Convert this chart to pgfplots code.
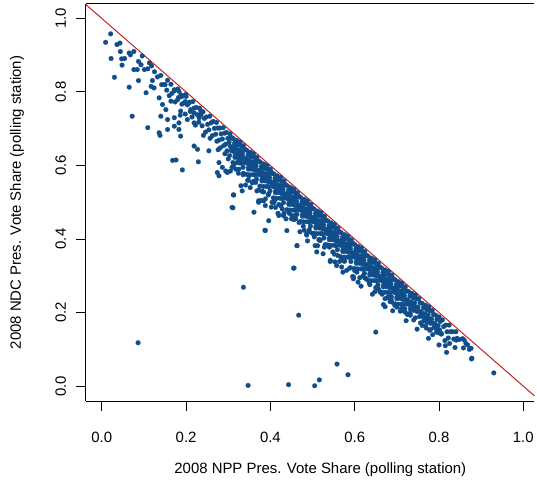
\documentclass[border=0pt]{standalone}
\usepackage{fontspec}
\setmainfont{Liberation Sans}
\usepackage{pgfplots}
\pgfplotsset{compat=1.18}
\definecolor{ptblue}{RGB}{16,78,139}
\definecolor{abline}{RGB}{195,35,35}
\begin{document}
\begin{tikzpicture}
\path (0,0) rectangle (537bp,485bp);
\begin{axis}[
  at={(86bp,82bp)}, anchor=south west,
  scale only axis, width=451bp, height=399bp,
  xmin=-0.0385, xmax=1.0264, ymin=-0.0406, ymax=1.0393,
  clip=false,
  axis lines*=left,
  axis line style={line width=1bp},
  xtick={0,0.2,0.4,0.6,0.8,1.0}, ytick={0,0.2,0.4,0.6,0.8,1.0},
  xticklabels={0.0,0.2,0.4,0.6,0.8,1.0},
  yticklabels={0.0,0.2,0.4,0.6,0.8,1.0},
  tick align=outside, major tick length=10bp,
  tick style={line width=1bp, black},
  ticklabel style={font=\fontsize{15bp}{18bp}\selectfont},
  xticklabel style={anchor=center, yshift=-26bp},
  yticklabel style={rotate=90, anchor=center, yshift=15bp},
  label style={font=\fontsize{15bp}{18bp}\selectfont},
  xlabel={2008 NPP Pres. Vote Share (polling station)},
  ylabel={2008 NDC Pres. Vote Share (polling station)},
  xlabel style={at={(axis description cs:0.523,-0.172)}, anchor=center},
  ylabel style={at={(axis description cs:-0.153,0.5)}, anchor=center},
]
\addplot[only marks, color=ptblue, mark=*, mark size=2.4bp, mark options={draw=ptblue, fill=ptblue, line width=0.2bp}] coordinates {
(0.021,0.958)(0.009,0.935)(0.036,0.929)(0.043,0.933)(0.044,0.910)(0.022,0.891)(0.047,0.890)(0.048,0.873)(0.054,0.891)(0.065,0.906)(0.076,0.910)(0.068,0.901)(0.096,0.898)(0.030,0.840)(0.065,0.813)(0.072,0.734)(0.087,0.883)(0.093,0.874)(0.084,0.861)(0.109,0.863)(0.101,0.861)(0.076,0.861)(0.113,0.879)(0.118,0.871)(0.087,0.831)(0.105,0.798)(0.120,0.831)(0.132,0.841)(0.117,0.815)(0.124,0.811)(0.136,0.784)(0.148,0.820)(0.154,0.805)(0.160,0.790)(0.172,0.806)(0.164,0.775)(0.183,0.802)(0.180,0.779)(0.189,0.787)(0.199,0.793)(0.195,0.770)(0.144,0.766)(0.152,0.752)(0.140,0.734)(0.156,0.725)(0.172,0.730)(0.187,0.748)(0.207,0.770)(0.211,0.752)(0.219,0.743)(0.109,0.703)(0.172,0.707)(0.183,0.716)(0.203,0.725)(0.219,0.716)(0.235,0.748)(0.231,0.730)
(0.136,0.689)(0.138,0.682)(0.156,0.698)(0.168,0.614)(0.176,0.615)(0.191,0.588)(0.229,0.610)(0.219,0.653)(0.227,0.644)(0.187,0.680)(0.183,0.698)(0.278,0.572)(0.286,0.595)(0.325,0.590)(0.298,0.581)(0.341,0.547)
(0.200,0.788)(0.203,0.765)(0.198,0.740)(0.208,0.772)(0.210,0.747)(0.216,0.774)(0.219,0.756)(0.214,0.732)(0.224,0.758)(0.227,0.738)(0.222,0.710)(0.232,0.756)(0.235,0.738)(0.230,0.718)
(0.164,0.821)(0.166,0.796)(0.172,0.803)(0.174,0.773)(0.180,0.808)(0.182,0.785)(0.188,0.792)(0.190,0.767)(0.186,0.737)(0.196,0.790)(0.198,0.774)
(0.125,0.855)(0.140,0.845)(0.142,0.820)(0.150,0.820)(0.156,0.832)
(0.240,0.746)(0.243,0.728)(0.238,0.708)(0.241,0.682)(0.248,0.732)(0.251,0.712)(0.246,0.691)
(0.256,0.734)(0.259,0.716)(0.254,0.697)(0.257,0.674)(0.264,0.720)(0.267,0.701)(0.262,0.681)
(0.272,0.717)(0.275,0.702)(0.270,0.685)(0.273,0.666)(0.276,0.643)(0.280,0.702)(0.283,0.686)(0.278,0.669)(0.281,0.648)
(0.288,0.703)(0.291,0.688)(0.286,0.672)(0.289,0.654)(0.292,0.632)(0.296,0.690)(0.299,0.674)(0.294,0.658)(0.297,0.640)
(0.304,0.686)(0.307,0.675)(0.302,0.663)(0.305,0.652)(0.308,0.640)(0.303,0.627)
(0.312,0.673)(0.315,0.661)(0.310,0.650)(0.313,0.638)(0.316,0.626)(0.311,0.608)
(0.320,0.668)(0.323,0.656)(0.318,0.645)(0.321,0.633)(0.324,0.622)(0.319,0.607)
(0.328,0.664)(0.331,0.653)(0.326,0.642)(0.329,0.631)(0.332,0.619)(0.327,0.607)
(0.336,0.654)(0.339,0.643)(0.334,0.631)(0.337,0.620)(0.340,0.608)(0.335,0.595)
(0.344,0.641)(0.347,0.629)(0.342,0.618)(0.345,0.606)(0.348,0.594)(0.343,0.576)
(0.352,0.636)(0.355,0.624)(0.350,0.613)(0.353,0.601)(0.356,0.590)(0.351,0.575)
(0.360,0.632)(0.363,0.621)(0.358,0.610)(0.361,0.599)(0.364,0.587)(0.359,0.575)
(0.368,0.622)(0.371,0.611)(0.366,0.599)(0.369,0.588)(0.372,0.576)(0.367,0.563)
(0.376,0.609)(0.379,0.597)(0.374,0.586)(0.377,0.574)(0.380,0.562)(0.375,0.544)
(0.384,0.604)(0.387,0.592)(0.382,0.581)(0.385,0.569)(0.388,0.558)(0.383,0.543)
(0.392,0.600)(0.395,0.589)(0.390,0.578)(0.393,0.567)(0.396,0.555)(0.391,0.543)
(0.400,0.590)(0.403,0.579)(0.398,0.567)(0.401,0.556)(0.404,0.544)(0.399,0.531)
(0.408,0.577)(0.411,0.565)(0.406,0.554)(0.409,0.542)(0.412,0.530)(0.407,0.512)
(0.416,0.572)(0.419,0.560)(0.414,0.549)(0.417,0.537)(0.420,0.526)(0.415,0.511)
(0.424,0.568)(0.427,0.557)(0.422,0.546)(0.425,0.535)(0.428,0.523)(0.423,0.511)
(0.432,0.558)(0.435,0.547)(0.430,0.535)(0.433,0.524)(0.436,0.512)(0.431,0.499)
(0.440,0.545)(0.443,0.533)(0.438,0.522)(0.441,0.510)(0.444,0.498)(0.439,0.480)
(0.448,0.540)(0.451,0.528)(0.446,0.517)(0.449,0.505)(0.452,0.494)(0.447,0.479)
(0.456,0.536)(0.459,0.525)(0.454,0.514)(0.457,0.503)(0.460,0.491)(0.455,0.479)
(0.464,0.526)(0.467,0.515)(0.462,0.503)(0.465,0.492)(0.468,0.480)(0.463,0.467)
(0.472,0.513)(0.475,0.501)(0.470,0.490)(0.473,0.478)(0.476,0.466)(0.471,0.448)
(0.480,0.508)(0.483,0.496)(0.478,0.485)(0.481,0.473)(0.484,0.462)(0.479,0.447)
(0.488,0.504)(0.491,0.493)(0.486,0.482)(0.489,0.471)(0.492,0.459)(0.487,0.447)
(0.496,0.494)(0.499,0.483)(0.494,0.471)(0.497,0.460)(0.500,0.448)(0.495,0.435)
(0.504,0.481)(0.507,0.469)(0.502,0.458)(0.505,0.446)(0.508,0.434)(0.503,0.416)
(0.512,0.476)(0.515,0.464)(0.510,0.453)(0.513,0.441)(0.516,0.430)(0.511,0.415)
(0.520,0.472)(0.523,0.461)(0.518,0.450)(0.521,0.439)(0.524,0.427)(0.519,0.415)
(0.528,0.462)(0.531,0.451)(0.526,0.439)(0.529,0.428)(0.532,0.416)(0.527,0.403)
(0.536,0.449)(0.539,0.437)(0.534,0.426)(0.537,0.414)(0.540,0.402)(0.535,0.384)
(0.544,0.444)(0.547,0.432)(0.542,0.421)(0.545,0.409)(0.548,0.398)(0.543,0.383)
(0.552,0.440)(0.555,0.429)(0.550,0.418)(0.553,0.407)(0.556,0.395)(0.551,0.383)
(0.560,0.430)(0.563,0.419)(0.558,0.407)(0.561,0.396)(0.564,0.384)(0.559,0.371)
(0.568,0.417)(0.571,0.405)(0.566,0.394)(0.569,0.382)(0.572,0.370)(0.567,0.352)
(0.576,0.412)(0.579,0.400)(0.574,0.389)(0.577,0.377)(0.580,0.366)(0.575,0.351)
(0.584,0.408)(0.587,0.397)(0.582,0.386)(0.585,0.375)(0.588,0.363)(0.583,0.351)
(0.592,0.398)(0.595,0.387)(0.590,0.375)(0.593,0.364)(0.596,0.352)(0.591,0.339)
(0.600,0.385)(0.603,0.373)(0.598,0.362)(0.601,0.350)(0.604,0.338)(0.599,0.320)
(0.608,0.380)(0.611,0.368)(0.606,0.357)(0.609,0.345)(0.612,0.334)(0.607,0.319)
(0.616,0.376)(0.619,0.365)(0.614,0.354)(0.617,0.343)(0.620,0.331)(0.615,0.319)
(0.624,0.366)(0.627,0.355)(0.622,0.343)(0.625,0.332)(0.628,0.320)(0.623,0.307)
(0.632,0.353)(0.635,0.341)(0.630,0.330)(0.633,0.318)(0.636,0.306)(0.631,0.288)
(0.640,0.348)(0.643,0.336)(0.638,0.325)(0.641,0.313)(0.644,0.302)(0.639,0.287)
(0.648,0.344)(0.651,0.333)(0.646,0.322)(0.649,0.311)(0.652,0.299)(0.647,0.287)
(0.656,0.334)(0.659,0.323)(0.654,0.311)(0.657,0.300)(0.660,0.288)(0.655,0.275)
(0.664,0.321)(0.667,0.309)(0.662,0.298)(0.665,0.286)(0.668,0.274)(0.663,0.256)
(0.672,0.316)(0.675,0.304)(0.670,0.293)(0.673,0.281)(0.676,0.270)(0.671,0.255)
(0.680,0.312)(0.683,0.301)(0.678,0.290)(0.681,0.279)(0.684,0.267)(0.679,0.255)
(0.688,0.302)(0.691,0.291)(0.686,0.279)(0.689,0.268)(0.692,0.256)(0.687,0.243)
(0.696,0.289)(0.699,0.277)(0.694,0.266)(0.697,0.254)(0.700,0.242)(0.695,0.224)
(0.704,0.284)(0.707,0.272)(0.702,0.261)(0.705,0.249)(0.708,0.238)(0.703,0.223)
(0.712,0.280)(0.715,0.269)(0.710,0.258)(0.713,0.247)(0.716,0.235)(0.711,0.223)
(0.720,0.270)(0.723,0.259)(0.718,0.247)(0.721,0.236)(0.724,0.224)(0.719,0.211)
(0.308,0.676)(0.308,0.642)(0.316,0.657)(0.316,0.622)(0.324,0.660)(0.324,0.626)(0.332,0.641)(0.332,0.606)
(0.340,0.644)(0.340,0.610)(0.348,0.625)(0.348,0.590)(0.356,0.628)(0.356,0.594)(0.364,0.609)(0.364,0.574)
(0.372,0.612)(0.372,0.578)(0.380,0.593)(0.380,0.558)(0.388,0.596)(0.388,0.562)(0.396,0.577)(0.396,0.542)
(0.404,0.580)(0.404,0.546)(0.412,0.561)(0.412,0.526)(0.420,0.564)(0.420,0.530)(0.428,0.545)(0.428,0.510)
(0.436,0.548)(0.436,0.514)(0.444,0.529)(0.444,0.494)(0.452,0.532)(0.452,0.498)(0.460,0.513)(0.460,0.478)
(0.468,0.516)(0.468,0.482)(0.476,0.497)(0.476,0.462)(0.484,0.500)(0.484,0.466)(0.492,0.481)(0.492,0.446)
(0.500,0.484)(0.500,0.450)(0.508,0.465)(0.508,0.430)(0.516,0.468)(0.516,0.434)(0.524,0.449)(0.524,0.414)
(0.532,0.452)(0.532,0.418)(0.540,0.433)(0.540,0.398)(0.548,0.436)(0.548,0.402)(0.556,0.417)(0.556,0.382)
(0.564,0.420)(0.564,0.386)(0.572,0.401)(0.572,0.366)(0.580,0.404)(0.580,0.370)(0.588,0.385)(0.588,0.350)
(0.596,0.388)(0.596,0.354)(0.604,0.369)(0.604,0.334)(0.612,0.372)(0.612,0.338)(0.620,0.353)(0.620,0.318)
(0.628,0.356)(0.628,0.322)(0.636,0.337)(0.636,0.302)(0.644,0.340)(0.644,0.306)(0.652,0.321)(0.652,0.286)
(0.660,0.324)(0.660,0.290)(0.668,0.305)(0.668,0.270)(0.676,0.308)(0.676,0.274)(0.684,0.289)(0.684,0.254)
(0.692,0.292)(0.692,0.258)(0.700,0.273)(0.700,0.238)(0.708,0.276)(0.708,0.242)(0.716,0.257)(0.716,0.222)
(0.728,0.257)(0.731,0.245)(0.726,0.234)(0.729,0.222)(0.732,0.210)
(0.736,0.252)(0.739,0.240)(0.734,0.229)(0.737,0.217)(0.740,0.206)
(0.744,0.248)(0.747,0.237)(0.742,0.226)(0.745,0.215)(0.748,0.203)
(0.752,0.238)(0.755,0.227)(0.750,0.215)(0.753,0.204)(0.756,0.192)
(0.760,0.225)(0.763,0.213)(0.758,0.202)(0.761,0.190)(0.764,0.178)
(0.768,0.220)(0.771,0.208)(0.766,0.197)(0.769,0.185)(0.772,0.174)
(0.776,0.216)(0.779,0.205)(0.774,0.194)(0.777,0.183)(0.780,0.171)
(0.784,0.206)(0.787,0.195)(0.782,0.183)(0.785,0.172)(0.788,0.160)
(0.792,0.193)(0.795,0.181)(0.790,0.170)(0.793,0.158)(0.796,0.146)
(0.800,0.188)(0.803,0.176)(0.798,0.165)(0.801,0.153)(0.804,0.142)
(0.808,0.180)(0.811,0.162)(0.806,0.142)(0.816,0.166)(0.819,0.148)(0.814,0.124)
(0.824,0.166)(0.827,0.148)(0.822,0.131)(0.832,0.148)(0.835,0.128)
(0.840,0.148)(0.843,0.130)(0.838,0.105)(0.848,0.127)(0.856,0.129)(0.858,0.104)(0.864,0.116)(0.872,0.100)
(0.300,0.618)(0.312,0.598)(0.324,0.579)(0.336,0.579)(0.348,0.560)(0.360,0.557)(0.372,0.533)(0.384,0.528)(0.396,0.523)(0.408,0.499)(0.420,0.494)(0.432,0.470)(0.444,0.472)(0.456,0.453)(0.468,0.445)(0.480,0.424)(0.492,0.425)(0.504,0.406)(0.516,0.399)(0.528,0.378)(0.540,0.378)(0.552,0.359)(0.564,0.339)(0.576,0.340)(0.588,0.321)(0.600,0.314)(0.612,0.295)(0.624,0.294)(0.636,0.276)(0.648,0.257)(0.660,0.256)(0.672,0.238)(0.684,0.230)(0.696,0.223)(0.708,0.204)(0.720,0.201)(0.732,0.193)(0.744,0.186)(0.756,0.172)(0.768,0.164)(0.780,0.154)
(0.305,0.585)(0.330,0.545)(0.352,0.540)(0.378,0.505)(0.402,0.487)(0.418,0.470)(0.437,0.455)(0.470,0.420)(0.488,0.395)(0.512,0.382)(0.525,0.360)(0.553,0.338)(0.572,0.310)(0.595,0.298)(0.615,0.272)(0.642,0.250)(0.668,0.222)(0.690,0.205)(0.722,0.178)(0.748,0.155)(0.775,0.130)(0.800,0.112)(0.818,0.092)
(0.254,0.640)(0.274,0.581)(0.294,0.585)(0.309,0.595)(0.313,0.520)(0.309,0.486)(0.333,0.531)(0.361,0.473)(0.372,0.504)(0.388,0.491)(0.396,0.450)(0.420,0.464)(0.431,0.464)(0.450,0.455)(0.459,0.464)(0.349,0.572)(0.365,0.554)(0.325,0.613)(0.278,0.608)(0.388,0.509)(0.404,0.500)(0.368,0.531)
(0.388,0.423)(0.439,0.423)(0.463,0.382)(0.455,0.321)(0.486,0.411)(0.506,0.382)(0.510,0.365)(0.518,0.396)(0.542,0.342)(0.557,0.328)(0.569,0.324)(0.581,0.315)(0.451,0.464)(0.428,0.482)(0.412,0.486)(0.384,0.504)(0.372,0.500)
(0.486,0.414)(0.542,0.339)(0.569,0.346)(0.597,0.292)(0.608,0.283)(0.628,0.292)(0.656,0.265)(0.672,0.216)(0.687,0.234)(0.695,0.220)(0.679,0.243)
(0.597,0.297)(0.687,0.229)(0.711,0.211)(0.731,0.198)(0.754,0.189)(0.778,0.152)(0.794,0.148)(0.805,0.143)(0.825,0.116)(0.841,0.125)(0.860,0.125)(0.868,0.112)(0.876,0.103)(0.878,0.076)
(0.311,0.485)(0.312,0.520)(0.387,0.424)
(0.318,0.590)(0.335,0.575)(0.346,0.560)(0.357,0.553)(0.380,0.530)(0.395,0.520)(0.410,0.505)(0.425,0.490)(0.445,0.470)(0.460,0.455)(0.478,0.435)(0.492,0.420)(0.500,0.415)(0.515,0.398)(0.530,0.385)(0.548,0.365)(0.560,0.355)(0.575,0.340)(0.590,0.322)(0.605,0.310)(0.620,0.300)(0.635,0.280)(0.650,0.268)(0.665,0.250)(0.680,0.240)(0.700,0.215)(0.715,0.205)(0.725,0.195)(0.740,0.180)(0.760,0.165)(0.770,0.158)(0.785,0.140)(0.815,0.110)
(0.086,0.118)(0.336,0.269)(0.347,0.002)(0.443,0.004)(0.505,0.001)(0.516,0.017)(0.558,0.060)(0.584,0.031)(0.650,0.147)(0.467,0.193)(0.456,0.321)(0.463,0.382)(0.930,0.036)(0.877,0.074)
};
\addplot[abline, line width=1bp, no marks] coordinates {(-0.0385,1.0385) (1.0264,-0.0264)};
\draw[line width=1bp] (rel axis cs:0,1) -- (rel axis cs:1,1);
\end{axis}
\end{tikzpicture}
\end{document}
